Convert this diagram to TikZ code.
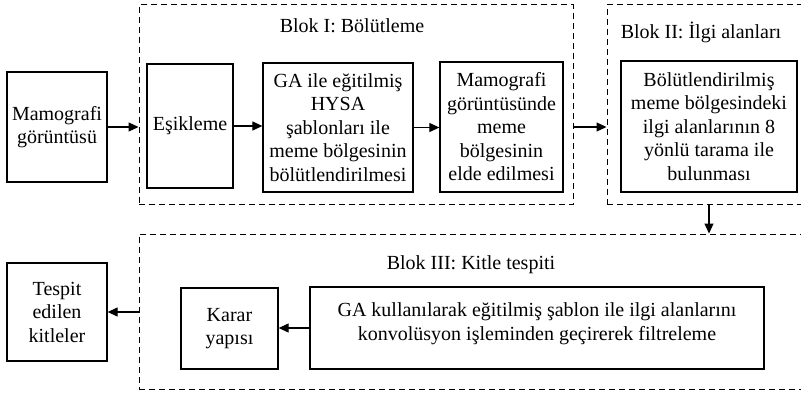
\documentclass[tikz,border=0pt]{standalone}
\usepackage{fontspec}
\setmainfont{Liberation Serif}
\usetikzlibrary{positioning, arrows.meta}
\tikzset{box/.style={draw,line width=1.3pt,align=center,inner sep=2pt,font=\fontsize{20}{23.5}\selectfont},
         blok/.style={draw,dash pattern=on 6pt off 4pt,line width=1pt},
         baslik/.style={font=\fontsize{20}{23}\selectfont},
         ok/.style={-{Triangle[length=10pt,width=9pt]},line width=1.2pt},
        }

\begin{document}
\begin{tikzpicture}[x=1pt,y=-1pt]
        \useasboundingbox (0,0) rectangle (801,393);
        \node[blok,minimum width=434pt,minimum height=200pt](b1)at(356,105){};
        \node[blok,minimum width=223pt,minimum height=200pt](b2)at(718.5,105){};
        \node[blok,minimum width=691pt,minimum height=155pt](b3)at(484.5,311.5){};
        \node[baslik](t1)at(352,26){Blok I: Bölütleme};
        \node[baslik](t2)at(701,32){Blok II: İlgi alanları};
        \node[baslik](t3)at(471,265){Blok III: Kitle tespiti};

        \node[box,minimum width=100pt,minimum height=110pt](mamo)at(57,127){Mamografi\\görüntüsü};
        \node[box,minimum width=86pt,minimum height=124pt](esik)at(190,126){Eşikleme};
        \node[box,minimum width=150pt,minimum height=129pt](hysa)at(338,127.5){GA ile eğitilmiş\\HYSA\\şablonları ile\\meme bölgesinin\\bölütlendirilmesi};
        \node[box,minimum width=123pt,minimum height=130pt](elde)at(501.5,127){Mamografi\\görüntüsünde\\meme\\bölgesinin\\elde edilmesi};
        \node[box,minimum width=176pt,minimum height=131pt](ilgi)at(709,126.5){Bölütlendirilmiş\\meme bölgesindeki\\ilgi alanlarının 8\\yönlü tarama ile\\bulunması};
        \node[box,minimum width=454pt,minimum height=82pt,text depth=13pt](filtre)at(537,328){GA kullanılarak eğitilmiş şablon ile ilgi alanlarını\\konvolüsyon işleminden geçirerek filtreleme};
        \node[box,minimum width=97pt,minimum height=81pt](karar)at(229.5,328.5){Karar\\yapısı};
        \node[box,minimum width=100pt,minimum height=98pt](tespit)at(57,312){Tespit\\edilen\\kitleler};

        \draw[ok](mamo.east)--(mamo.east -| b1.west);
        \draw[ok](esik.east)--(esik.east -| hysa.west);
        \draw[ok](hysa.east)--(hysa.east -| elde.west);
        \draw[ok](elde.east -| b1.east)--(elde.east -| b2.west);
        \draw[ok](b2.south -| ilgi.center)--(b3.north -| ilgi.center);
        \draw[ok](filtre.west)--(filtre.west -| karar.east);
        \draw[ok](tespit.east -| b3.west)--(tespit.east);
    \end{tikzpicture}
\end{document}
